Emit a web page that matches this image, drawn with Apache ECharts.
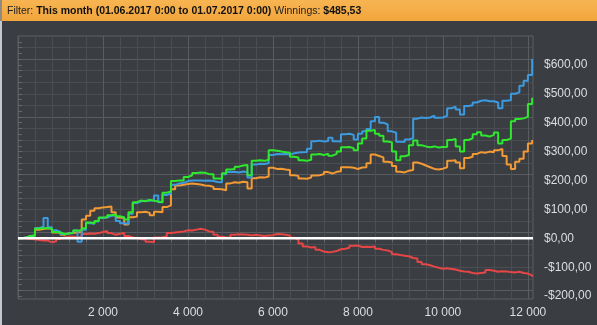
<!DOCTYPE html>
<html><head><meta charset="utf-8">
<script src="https://cdn.jsdelivr.net/npm/echarts@6/dist/echarts.min.js"></script>
<style>html,body{margin:0;padding:0;background:#3a3d41;}#c{width:597px;height:325px;}</style>
</head><body><div id="c"></div>
<script>
// sampling step (hands) of the traced curves
const handStep = 100;
const greenVals = [0,3,8,10,34,35,36,33,22,20,
15,17,18,27,28,35,55,52,60,72,
73,80,83,76,73,65,90,125,131,128,
133,130,127,125,158,162,198,200,200,212,
218,226,228,227,222,222,207,206,225,238,
240,248,252,254,218,268,270,268,272,305,
303,300,298,296,282,280,270,268,272,290,
292,288,293,286,292,300,315,316,312,305,
328,345,372,375,362,355,335,332,300,270,
284,288,322,338,322,318,315,318,314,316,
316,340,344,318,300,340,346,360,367,356,
352,358,366,328,340,345,405,413,415,420,
465,486];
const blueVals = [0,3,8,10,36,40,70,38,28,22,
15,17,18,27,-12,30,52,50,58,70,
72,78,80,60,52,50,85,122,128,130,
130,132,148,125,150,155,185,190,192,198,
200,200,200,199,200,198,195,194,222,229,
230,228,231,229,210,255,258,257,260,288,
292,291,292,290,294,297,298,299,310,336,
338,335,337,348,336,335,360,362,358,342,
362,370,378,405,420,400,394,370,365,334,
333,342,346,414,418,416,418,424,417,418,
424,450,455,446,428,458,460,470,476,478,
474,474,470,450,476,478,500,505,528,545,
565,620];
const orangeVals = [0,3,8,10,30,32,35,33,20,20,
12,18,18,20,22,65,78,95,104,107,
108,110,90,72,70,48,73,75,90,92,
88,80,92,90,108,114,170,183,185,188,
190,188,186,183,182,178,171,170,166,190,
194,192,196,194,172,208,211,210,214,244,
240,241,238,236,218,216,207,206,210,217,
218,222,229,224,230,232,246,246,244,240,
245,246,260,290,285,280,265,262,250,230,
228,234,236,262,258,252,246,240,238,241,
246,268,270,262,242,278,282,292,298,296,
300,298,305,309,285,255,240,265,275,300,
328,340];
const redVals = [0,-1,-2,-3,-6,-8,-8,-14,-10,-2,
3,5,6,4,6,15,17,16,18,22,
25,18,12,16,18,8,3,2,-3,-4,
-12,-14,3,4,6,18,20,22,24,28,
27,30,33,30,24,22,12,5,3,4,
12,14,13,12,10,12,10,8,10,11,
15,14,12,10,2,-4,-18,-28,-32,-30,
-40,-46,-48,-47,-44,-38,-36,-33,-26,-25,
-30,-29,-30,-28,-36,-40,-42,-48,-55,-58,
-60,-62,-68,-70,-82,-90,-93,-98,-102,-105,
-104,-106,-108,-112,-115,-116,-120,-122,-120,-118,
-110,-112,-116,-114,-115,-117,-118,-116,-120,-122,
-128,-133];
const yLabelValues = [-200,-100,0,100,200,300,400,500,600];
const xLabelValues = [2000,4000,6000,8000,10000,12000];

function pairs(vals){ return vals.map((v,i)=>[i*handStep, v]); }

const FONT = '"Liberation Sans", Arial, sans-serif';
const MAJOR = '#595c61', MINOR = '#4a4d52', T = 'rgba(0,0,0,0)';
const yTicks = []; for (let v=-200; v<=680; v+=20) yTicks.push(v);

function money(v){ return (v<0 ? '-$'+(-v) : '$'+v) + ',00'; }
function thou(v){ const s=String(v); return s.length>3 ? s.slice(0,s.length-3)+' '+s.slice(-3) : s; }

const chart = echarts.init(document.getElementById('c'), null, {renderer:'canvas'});
const lineBase = {type:'line', showSymbol:false, symbol:'none', step:'end', animation:false};
chart.setOption({
  backgroundColor:'#3a3d41',
  animation:false,
  graphic:[
    {type:'rect', shape:{x:0,y:0,width:597,height:21}, z:10,
     style:{fill:new echarts.graphic.LinearGradient(0,0,0,1,[{offset:0,color:'#f7b552'},{offset:1,color:'#f2a53c'}])}},
    {type:'rect', shape:{x:0,y:0,width:2,height:21}, z:11, style:{fill:'#8f8b83'}},
    {type:'rect', shape:{x:0,y:21,width:2,height:304}, z:11, style:{fill:'#c4c8ce'}},
    {type:'text', x:7, y:6, z:12, style:{
      text:'{n|Filter: }{b|This month (01.06.2017 0:00 to 01.07.2017 0:00)}{n| Winnings: }{b|$485,53}',
      rich:{
        n:{fontSize:10.5, fontFamily:FONT, fill:'#222222', color:'#222222'},
        b:{fontSize:10.5, fontFamily:FONT, fontWeight:'bold', fill:'#111111', color:'#111111'}
      }}}
  ],
  grid:{left:18, right:64, top:36, bottom:26, show:true, borderColor:'#5d6065', borderWidth:1, backgroundColor:'transparent'},
  xAxis:{type:'value', min:0, max:12120, interval:400,
    axisLine:{show:false},
    axisTick:{show:true, length:4, lineStyle:{color:'#64676c'}},
    axisLabel:{color:'#dcdee2', fontSize:12, fontFamily:FONT, margin:8, showMinLabel:false, showMaxLabel:false,
      formatter:v=> (v>0 && v%2000===0) ? thou(v) : ''},
    splitLine:{show:true, lineStyle:{color:[MAJOR,MINOR,MINOR,MINOR,MINOR], width:1}}
  },
  yAxis:{type:'value', position:'right', min:-210, max:700, interval:10,
    axisLine:{show:false},
    axisTick:{show:true, length:4, customValues:yTicks, lineStyle:{color:'#64676c'}},
    axisLabel:{color:'#dcdee2', fontSize:12, fontFamily:FONT, margin:11, customValues:yLabelValues,
      formatter:v=> (v%100===0 && v<700 && v>-210) ? money(v) : ''},
    splitLine:{show:true, lineStyle:{color:[T,MAJOR,T,MINOR,T,MINOR,T,MINOR,T,MINOR], width:1}}
  },
  series:[
    Object.assign({}, lineBase, {name:'red', data:pairs(redVals), lineStyle:{color:'#e64646', width:2}, z:2}),
    Object.assign({}, lineBase, {name:'orange', data:pairs(orangeVals), lineStyle:{color:'#f39a35', width:2}, z:3}),
    Object.assign({}, lineBase, {name:'blue', data:pairs(blueVals), lineStyle:{color:'#3c9be0', width:2}, z:4}),
    Object.assign({}, lineBase, {name:'green', data:pairs(greenVals), lineStyle:{color:'#2ee82e', width:2}, z:5}),
    {type:'line', name:'zero', data:[[0,0],[12120,0]], showSymbol:false, symbol:'none', lineStyle:{color:'#ffffff', width:2.5}, z:6, animation:false}
  ]
});
</script></body></html>
